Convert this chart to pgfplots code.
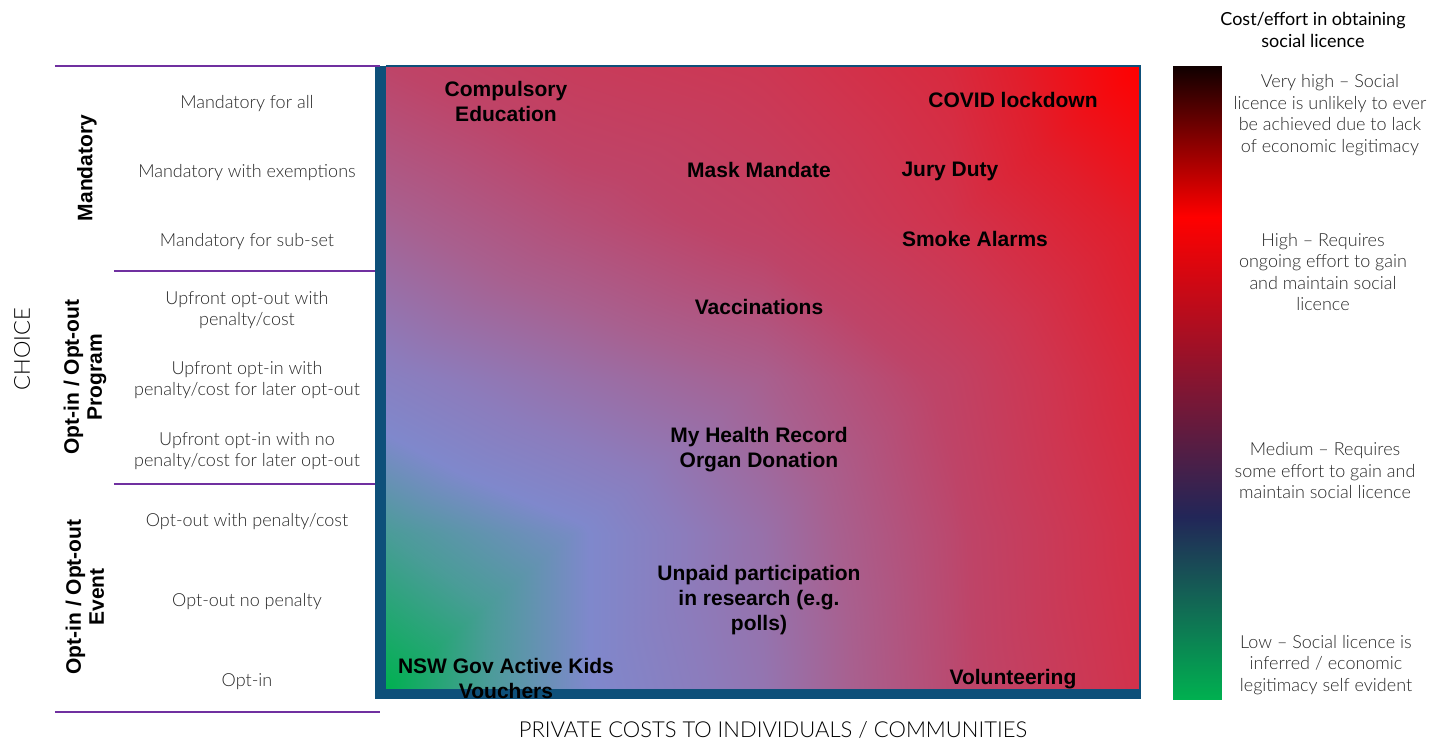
\documentclass[border=0pt]{standalone}
\usepackage{fontspec}
\setmainfont{Lato Light}
\newfontfamily\regfont{Lato}
\newfontfamily\arial{Liberation Sans}
\usepackage{pgfplots}
\pgfplotsset{compat=1.18}
\definecolor{frameblue}{RGB}{14,80,122}
\definecolor{sep}{RGB}{112,48,160}
\definecolor{txt}{RGB}{40,40,40}
\pgfplotsset{
  colormap={grad}{rgb255(0pt)=(255,0,0) rgb255(20pt)=(225,30,44) rgb255(40pt)=(207,53,80) rgb255(55pt)=(190,68,104) rgb255(68pt)=(168,96,143) rgb255(80pt)=(140,124,188) rgb255(86pt)=(127,136,204) rgb255(93pt)=(74,156,152) rgb255(100pt)=(0,176,80)},
  colormap={cbar}{rgb255(0pt)=(0,176,80) rgb255(28.6pt)=(34,38,88) rgb255(76.2pt)=(255,0,0) rgb255(100pt)=(16,0,0)},
}
\tikzset{
  lighttxt/.style={font=\fontsize{9}{10.75}\selectfont, text=txt, align=center, inner sep=0pt},
  grp/.style={font=\arial\bfseries\fontsize{10.5}{11.5}\selectfont, text=black, align=center, inner sep=0pt, rotate=90},
}
\begin{document}
\begin{tikzpicture}
\begin{axis}[
  scale only axis, width=377pt, height=311.5pt,
  xmin=386, xmax=1140, ymin=66, ymax=689, y dir=reverse,
  hide axis, clip=false,
  point meta min=0, point meta max=100,
  colormap name=grad,
]
% background gradient
\addplot[surf, shader=interp, mesh/cols=5, mesh/rows=5, point meta=explicit] table[meta=m] {
x y m
386 66 55
574 66 47
763 66 42
951 66 30
1140 66 0
386 222 69
574 222 60
763 222 52
951 222 38
1140 222 18
386 378 82
574 378 75
763 378 68
951 378 53
1140 378 28
386 533 93
574 533 87
763 533 75
951 533 57
1140 533 34
386 689 100
574 689 87
763 689 77
951 689 58
1140 689 37
};
% colour bar
\addplot[surf, shader=interp, mesh/cols=2, mesh/rows=4, colormap name=cbar, point meta=explicit] table[meta=m] {
x y m
1173 66 100
1221 66 100
1173 217 76.2
1221 217 76.2
1173 517 28.6
1221 517 28.6
1173 699 0
1221 699 0
};
% frame
\fill[frameblue] (axis cs:375,66) rectangle (axis cs:386,699);
\fill[frameblue] (axis cs:375,689) rectangle (axis cs:1140,699);
\draw[frameblue, line width=1pt] (axis cs:386,66) -- (axis cs:1140,66) -- (axis cs:1140,699);
% labels
\addplot[draw=none, nodes near coords, point meta=explicit symbolic,
  every node near coord/.append style={anchor=center, align=center, font=\arial\bfseries\fontsize{10.5}{12.5}\selectfont, text=black, inner sep=0pt}]
coordinates {
(506,101) [{Compulsory\\Education}]
(1013,100) [{COVID lockdown}]
(759,170) [{Mask Mandate}]
(950,171) [{Jury Duty}]
(975,239) [{Smoke Alarms}]
(759,307) [{Vaccinations}]
(759,450) [{My Health Record\\Organ Donation}]
(759,600) [{Unpaid participation\\in research (e.g.\\polls)}]
(506,678) [{NSW Gov Active Kids\\Vouchers}]
(1013,679) [{Volunteering}]
};
% left table
\draw[sep, line width=1.25pt] (axis cs:55,66) -- (axis cs:380,66);
\draw[sep, line width=1.25pt] (axis cs:114,271) -- (axis cs:375,271);
\draw[sep, line width=1.25pt] (axis cs:114,484) -- (axis cs:375,484);
\draw[sep, line width=1.25pt] (axis cs:55,712) -- (axis cs:380,712);
\node[lighttxt] at (axis cs:247,104) {Mandatory for all};
\node[lighttxt] at (axis cs:247,173) {Mandatory with exemptions};
\node[lighttxt] at (axis cs:247,242) {Mandatory for sub-set};
\node[lighttxt] at (axis cs:247,310) {Upfront opt-out with\\penalty/cost};
\node[lighttxt] at (axis cs:247,380) {Upfront opt-in with\\penalty/cost for later opt-out};
\node[lighttxt] at (axis cs:247,451) {Upfront opt-in with no\\penalty/cost for later opt-out};
\node[lighttxt] at (axis cs:247,522) {Opt-out with penalty/cost};
\node[lighttxt] at (axis cs:247,602) {Opt-out no penalty};
\node[lighttxt] at (axis cs:247,682) {Opt-in};
\node[grp] at (axis cs:87,168) {Mandatory};
\node[grp] at (axis cs:85,377) {Opt-in / Opt-out\\Program};
\node[grp] at (axis cs:85,597) {Opt-in / Opt-out\\Event};
\node[rotate=90, font=\fontsize{11}{13}\selectfont, text=black, inner sep=0pt] at (axis cs:22,349) {CHOICE};
\node[font=\fontsize{11}{13}\selectfont, text=black, inner sep=0pt] at (axis cs:773,730) {PRIVATE COSTS TO INDIVIDUALS / COMMUNITIES};
% colour bar texts
\node[font=\regfont\fontsize{9}{10.75}\selectfont, text=black, align=center, inner sep=0pt] at (axis cs:1313,30) {Cost/effort in obtaining\\social licence};
\node[lighttxt] at (axis cs:1330,115) {Very high -- Social\\licence is unlikely to ever\\be achieved due to lack\\of economic legitimacy};
\node[lighttxt] at (axis cs:1323,272) {High -- Requires\\ongoing effort to gain\\and maintain social\\licence};
\node[lighttxt] at (axis cs:1325,471) {Medium -- Requires\\some effort to gain and\\maintain social licence};
\node[lighttxt] at (axis cs:1326,665) {Low -- Social licence is\\inferred / economic\\legitimacy self evident};
\path (axis cs:0,0) rectangle (axis cs:1441,741);
\end{axis}
\end{tikzpicture}
\end{document}
